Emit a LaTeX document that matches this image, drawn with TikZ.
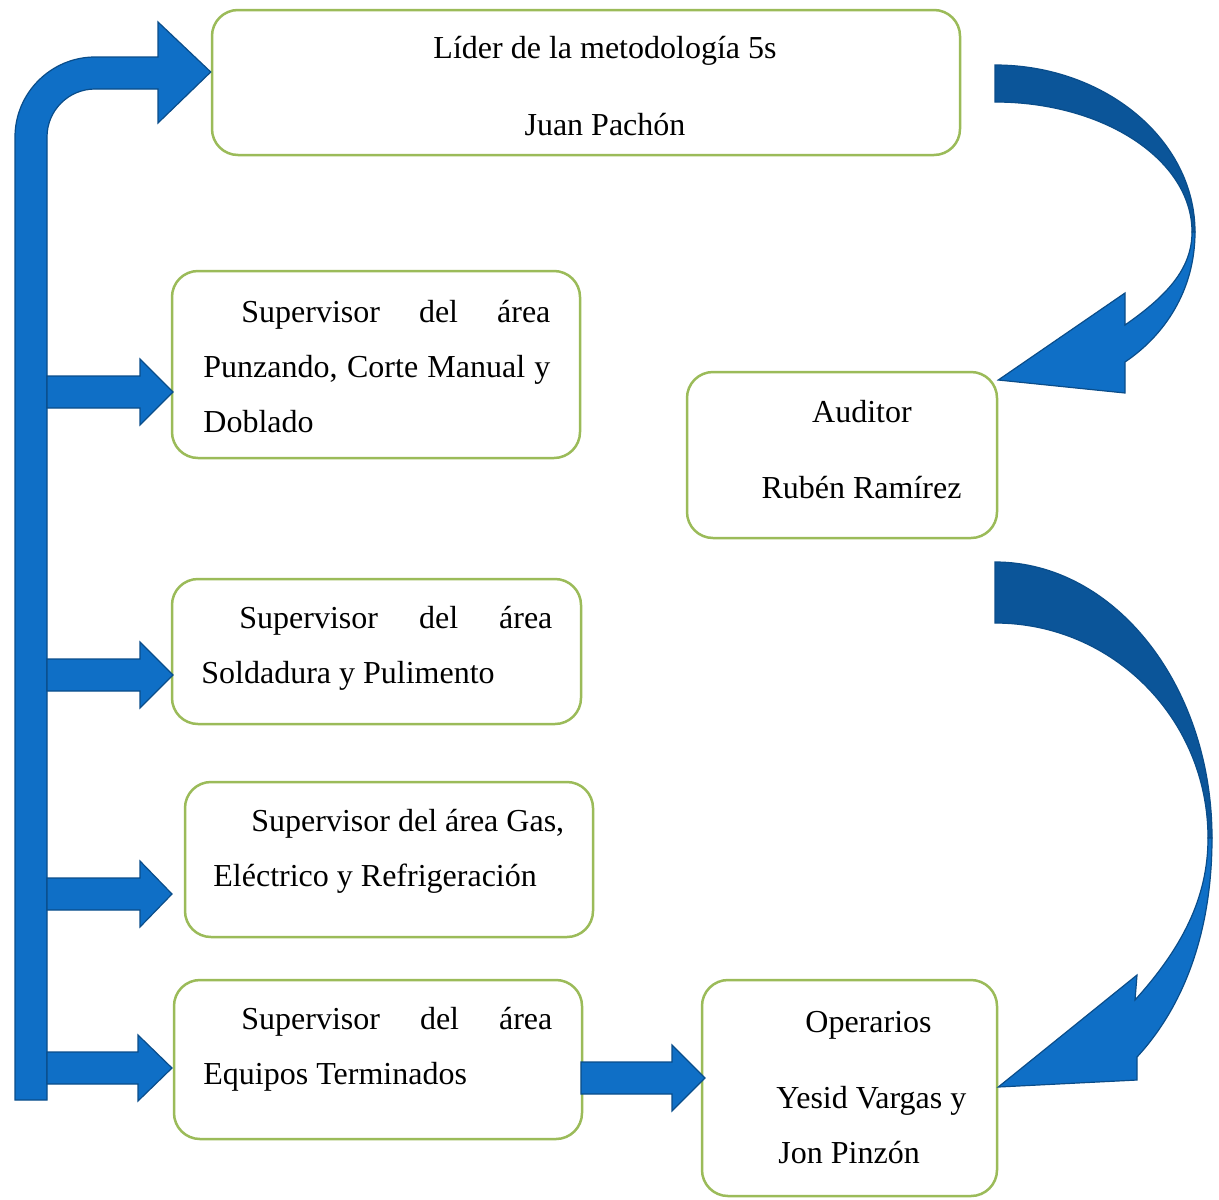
\documentclass[tikz,border=0pt]{standalone}
\usepackage{fontspec}
\setmainfont{Liberation Serif}
\usetikzlibrary{fit}
\definecolor{boxgreen}{HTML}{9BBB59}
\definecolor{arrowlight}{HTML}{0F6FC6}
\definecolor{arrowdark}{HTML}{0B5599}
\definecolor{arrowline}{HTML}{0A4D8A}
% straight block arrow: #1 tail x, #2 head base x, #3 tip x, #4 axis y
\newcommand\blockarrowpath[4]{%
  \filldraw[blockarrow] (#1,#4-16) -- (#2,#4-16) -- (#2,#4-33) -- (#3,#4)
    -- (#2,#4+33) -- (#2,#4+16) -- (#1,#4+16) -- cycle;}
\begin{document}
\begin{tikzpicture}[x=0.5pt,y=-0.5pt,
  orgbox/.style={draw=boxgreen, line width=1.25pt, rounded corners=13pt, inner sep=0pt},
  txt/.style={font=\fontsize{16pt}{20pt}\selectfont, inner sep=0pt},
  blockarrow/.style={fill=arrowlight, draw=arrowline, line width=0.6pt, line join=miter},
  bandarrow/.style={fill=arrowdark, draw=arrowline, line width=0.6pt}]
\useasboundingbox (0,0) rectangle (1219,1199);

% boxes
\node[orgbox, fit={(212,10) (960,155)}] (lider) {};
\node[orgbox, fit={(172,271) (580,458)}] (punz) {};
\node[orgbox, fit={(687,372) (997,538)}] (auditor) {};
\node[orgbox, fit={(172,579) (581,724)}] (sold) {};
\node[orgbox, fit={(185,782) (593,937)}] (gas) {};
\node[orgbox, fit={(174,980) (582,1139)}] (equipos) {};
\node[orgbox, fit={(702,980) (997,1196)}] (operarios) {};

% texts
\node[txt, anchor=base] (liderA) at (605,58) {Líder de la metodología 5s};
\node[txt, anchor=base] (liderB) at (605,135) {Juan Pachón};

\node[txt, anchor=base west] (punzA) at (241,322) {\makebox[154.5pt][s]{Supervisor del área}};
\node[txt, anchor=base west] (punzB) at (203,377) {\makebox[173.5pt][s]{Punzando, Corte Manual y}};
\node[txt, anchor=base west] (punzC) at (203,432) {Doblado};

\node[txt, anchor=base] (audA) at (862,422) {Auditor};
\node[txt, anchor=base] (audB) at (861.5,498) {Rubén Ramírez};

\node[txt, anchor=base west] (soldA) at (239,628) {\makebox[156.5pt][s]{Supervisor del área}};
\node[txt, anchor=base west] (soldB) at (201,683) {Soldadura y Pulimento};

\node[txt, anchor=base west] (gasA) at (251,831) {Supervisor del área Gas,};
\node[txt, anchor=base west] (gasB) at (213,886) {Eléctrico y Refrigeración};

\node[txt, anchor=base west] (eqA) at (241,1029) {\makebox[155.5pt][s]{Supervisor del área}};
\node[txt, anchor=base west] (eqB) at (203,1084) {Equipos Terminados};

\node[txt, anchor=base] (opA) at (868.5,1032) {Operarios};
\node[txt, anchor=base west] (opB) at (776,1108) {Yesid Vargas y};
\node[txt, anchor=base west] (opC) at (778,1163) {Jon Pinzón};

% bent arrow from the vertical bar up to the leader
\filldraw[blockarrow] (15,1100) -- (15,137) .. controls (15,93) and (51,57) .. (95,57)
  -- (158,57) -- (158,22) -- (lider.west |- 0,72) -- (158,123) -- (158,89) -- (95,89)
  .. controls (68.5,89) and (47,110.5) .. (47,137) -- (47,1100) -- cycle;

% branches from the bar to the supervisors
\blockarrowpath{47}{140}{173}{392}
\blockarrowpath{47}{140}{173}{675}
\blockarrowpath{47}{140}{172}{894}
\blockarrowpath{47}{138}{172}{1068}

% supervisor of finished equipment to operators
\blockarrowpath{581}{672}{705}{1078}

% curved arrow: leader to auditor
\filldraw[bandarrow] (995,65) .. controls (1105,65) and (1195,140) .. (1195,232)
  -- (1192,232) .. controls (1192,160) and (1104,102) .. (995,102) -- cycle;
\filldraw[blockarrow] (1195,232) .. controls (1195,290) and (1165,335) .. (1125,362)
  -- (1125,393) -- (auditor.north east |- 0,380) -- (1125,293) -- (1125,325)
  .. controls (1165,297) and (1192,270) .. (1192,232) -- cycle;

% curved arrow: auditor to operators
\filldraw[bandarrow] (995,562) .. controls (1115,562) and (1212,686) .. (1212,838)
  -- (1208,838) .. controls (1208,719) and (1113,623) .. (995,623) -- cycle;
\filldraw[blockarrow] (1212,838) .. controls (1212,930) and (1185,1005) .. (1137,1057)
  -- (1137,1080) -- (operarios.east |- 0,1087) -- (1137,975) -- (1135,1000)
  .. controls (1180,950) and (1208,900) .. (1208,838) -- cycle;
\end{tikzpicture}
\end{document}
